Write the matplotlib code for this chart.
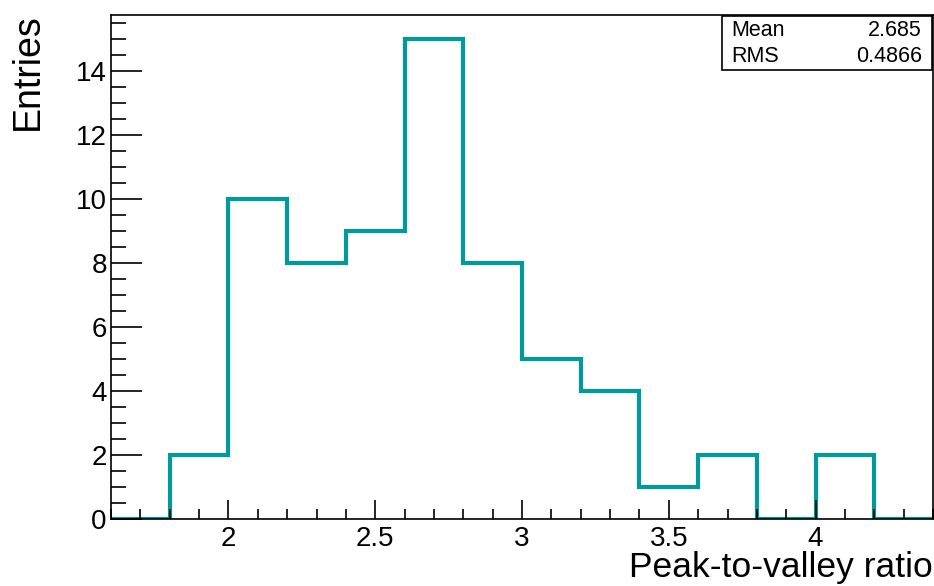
import numpy as np
import matplotlib.pyplot as plt
from matplotlib.ticker import MultipleLocator, FormatStrFormatter

plt.rcParams['font.family'] = ['Liberation Sans', 'DejaVu Sans']

# histogram bins (0.2 wide) and counts
edges = [1.6, 1.8, 2.0, 2.2, 2.4, 2.6, 2.8, 3.0, 3.2, 3.4, 3.6, 3.8, 4.0, 4.2, 4.4]
counts = [0, 2, 10, 8, 9, 15, 8, 5, 4, 1, 2, 0, 2, 0]
stat_names = ['Mean', 'RMS']
stat_values = ['2.685', '0.4866']

fig = plt.figure(figsize=(9.34, 5.86), dpi=100)
ax = fig.add_axes([111 / 934, 1 - 519 / 586, 822 / 934, 504 / 586])

ax.stairs(counts, edges, color='#009a9a', linewidth=3)
ax.set_xlim(1.6, 4.4)
ax.set_ylim(0, 15.75)

ax.xaxis.set_major_locator(MultipleLocator(0.5))
ax.xaxis.set_minor_locator(MultipleLocator(0.1))
ax.xaxis.set_major_formatter(FormatStrFormatter('%g'))
ax.yaxis.set_major_locator(MultipleLocator(2))
ax.yaxis.set_minor_locator(MultipleLocator(0.5))
ax.tick_params(which='both', direction='in', top=False, right=False, labelsize=20, width=1.2)
ax.tick_params(axis='x', which='major', length=14, pad=5)
ax.tick_params(axis='x', which='minor', length=7)
ax.tick_params(axis='y', which='major', length=22, pad=3)
ax.tick_params(axis='y', which='minor', length=11)
ax.set_xticklabels([], minor=True)
for s in ax.spines.values():
    s.set_linewidth(1.2)

fig.text(933 / 934, 2 / 586, 'Peak-to-valley ratio', ha='right', va='bottom', fontsize=25.5)
fig.text(28 / 934, 1 - 13 / 586, 'Entries', ha='center', va='top', rotation=90, fontsize=27)

# stats box
bx0, by0, bx1, by1 = 722 / 934, 1 - 70 / 586, 932 / 934, 1 - 16 / 586
fig.patches.append(plt.Rectangle((bx0, by0), bx1 - bx0, by1 - by0, transform=fig.transFigure,
                                 fill=True, facecolor='white', edgecolor='black', linewidth=1.2))
for i, (n, v) in enumerate(zip(stat_names, stat_values)):
    yy = 1 - (31 + 26 * i) / 586
    fig.text(731 / 934, yy, n, ha='left', va='center', fontsize=15.5)
    fig.text(922 / 934, yy, v, ha='right', va='center', fontsize=15.5)

fig.savefig('out.png', dpi=100)
